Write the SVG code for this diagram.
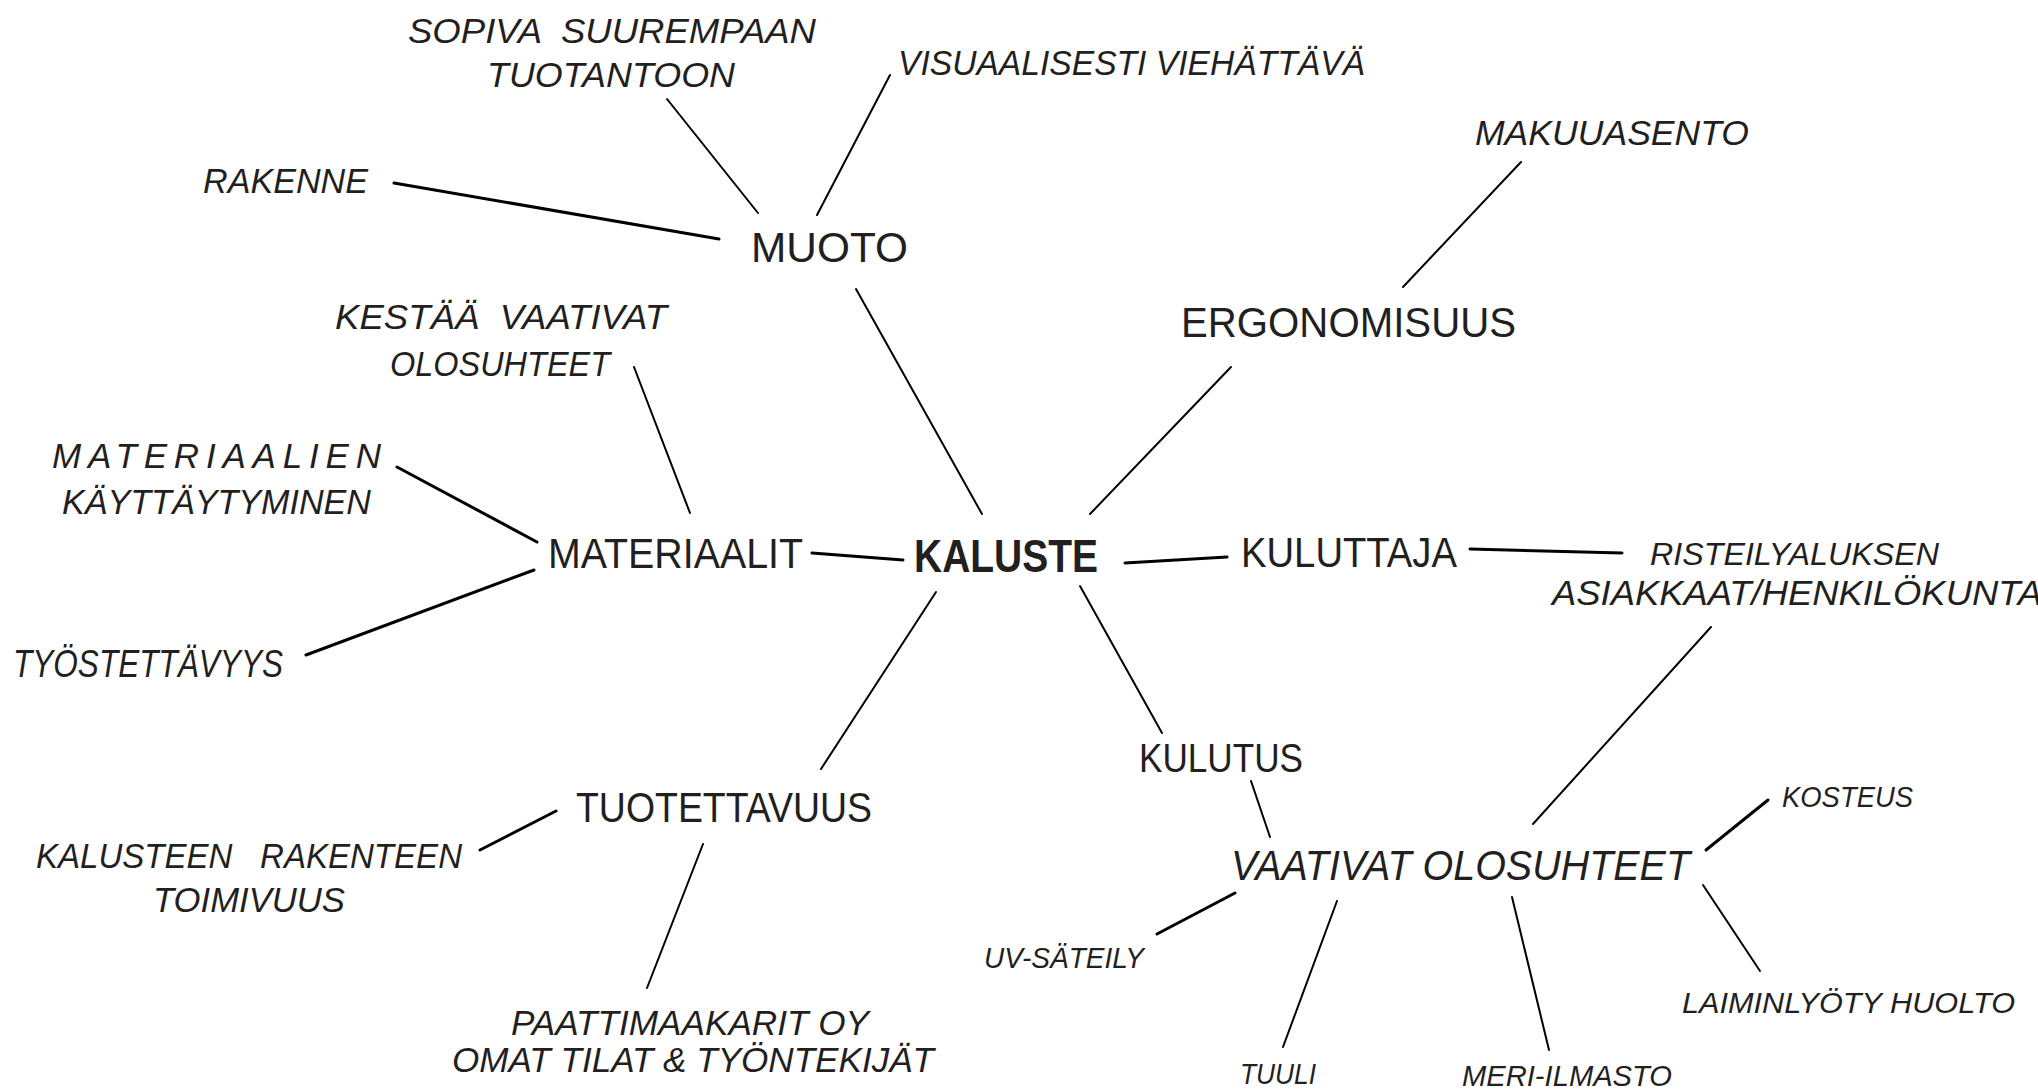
<svg xmlns="http://www.w3.org/2000/svg" width="2038" height="1092" viewBox="0 0 2038 1092">
<style>
text{font-family:"Liberation Sans",Arial,sans-serif;fill:#231f20;white-space:pre}
.m{font-size:42px}
.i{font-size:35px;font-style:italic}
.s{font-size:30px;font-style:italic}
.b{font-size:47px;font-weight:bold}
.c line{stroke:#000;stroke-width:2;stroke-linecap:round}
.c line.t{stroke-width:3}
</style>
<rect width="2038" height="1092" fill="#fff"/>
<g class="c" id="connectors">
<line x1="667" y1="99" x2="758" y2="213"/>
<line x1="890" y1="75" x2="817" y2="215"/>
<line class="t" x1="394" y1="183" x2="719" y2="239"/>
<line x1="856" y1="289" x2="982" y2="514"/>
<line x1="634" y1="367" x2="690" y2="513"/>
<line class="t" x1="397" y1="467" x2="537" y2="542"/>
<line class="t" x1="306" y1="655" x2="534" y2="570"/>
<line class="t" x1="812" y1="553" x2="903" y2="560"/>
<line x1="936" y1="592" x2="821" y2="769"/>
<line class="t" x1="1125" y1="563" x2="1227" y2="557"/>
<line class="t" x1="1470" y1="549" x2="1622" y2="553"/>
<line x1="1231" y1="367" x2="1090" y2="514"/>
<line x1="1521" y1="162" x2="1403" y2="287"/>
<line x1="1080" y1="586" x2="1162" y2="733"/>
<line x1="1711" y1="627" x2="1533" y2="824"/>
<line x1="1251" y1="781" x2="1270" y2="837"/>
<line class="t" x1="1768" y1="800" x2="1706" y2="850"/>
<line x1="1703" y1="885" x2="1760" y2="971"/>
<line x1="1512" y1="897" x2="1549" y2="1050"/>
<line x1="1337" y1="901" x2="1283" y2="1047"/>
<line class="t" x1="1235" y1="893" x2="1157" y2="934"/>
<line class="t" x1="556" y1="811" x2="480" y2="850"/>
<line x1="703" y1="844" x2="647" y2="988"/>
</g>
<g id="kaluste"><text class="b" x="914" y="572" textLength="184" lengthAdjust="spacingAndGlyphs">KALUSTE</text></g>
<g id="muoto"><text class="m" x="751" y="262" textLength="157" lengthAdjust="spacingAndGlyphs">MUOTO</text></g>
<g id="sopiva"><text class="i" x="408" y="43" textLength="408" lengthAdjust="spacingAndGlyphs" xml:space="preserve">SOPIVA  SUUREMPAAN</text><text class="i" x="487" y="87" textLength="248" lengthAdjust="spacingAndGlyphs">TUOTANTOON</text></g>
<g id="visuaalisesti"><text class="i" x="898" y="75" textLength="467" lengthAdjust="spacingAndGlyphs">VISUAALISESTI VIEHÄTTÄVÄ</text></g>
<g id="rakenne"><text class="i" x="203" y="193" textLength="165" lengthAdjust="spacingAndGlyphs">RAKENNE</text></g>
<g id="kestaa"><text class="i" x="335" y="329" textLength="332" lengthAdjust="spacingAndGlyphs" xml:space="preserve">KESTÄÄ  VAATIVAT</text><text class="i" x="390" y="376" textLength="220" lengthAdjust="spacingAndGlyphs">OLOSUHTEET</text></g>
<g id="materiaalien"><text class="i" x="52" y="468" textLength="329" lengthAdjust="spacing">MATERIAALIEN</text><text class="i" x="62" y="514" textLength="309" lengthAdjust="spacingAndGlyphs">KÄYTTÄYTYMINEN</text></g>
<g id="materiaalit"><text class="m" x="548" y="568" textLength="255" lengthAdjust="spacingAndGlyphs">MATERIAALIT</text></g>
<g id="tyostettavyys"><text class="i" x="13" y="677" style="font-size:39px" textLength="270" lengthAdjust="spacingAndGlyphs">TYÖSTETTÄVYYS</text></g>
<g id="kuluttaja"><text class="m" x="1241" y="567" textLength="216" lengthAdjust="spacingAndGlyphs">KULUTTAJA</text></g>
<g id="risteilyaluksen"><text class="i" x="1650" y="565" style="font-size:32px" textLength="289" lengthAdjust="spacingAndGlyphs">RISTEILYALUKSEN</text><text class="i" x="1552" y="605" textLength="490" lengthAdjust="spacingAndGlyphs">ASIAKKAAT/HENKILÖKUNTA</text></g>
<g id="makuuasento"><text class="i" x="1475" y="145" textLength="274" lengthAdjust="spacingAndGlyphs">MAKUUASENTO</text></g>
<g id="ergonomisuus"><text class="m" x="1181" y="337" textLength="335" lengthAdjust="spacingAndGlyphs">ERGONOMISUUS</text></g>
<g id="tuotettavuus"><text class="m" x="576" y="822" textLength="296" lengthAdjust="spacingAndGlyphs">TUOTETTAVUUS</text></g>
<g id="kalusteen-rakenteen"><text class="i" x="36" y="868" textLength="426" lengthAdjust="spacingAndGlyphs" xml:space="preserve">KALUSTEEN   RAKENTEEN</text><text class="i" x="153" y="912" textLength="192" lengthAdjust="spacingAndGlyphs">TOIMIVUUS</text></g>
<g id="paattimaakarit"><text class="i" x="511" y="1035" textLength="358" lengthAdjust="spacingAndGlyphs">PAATTIMAAKARIT OY</text><text class="i" x="452" y="1072" textLength="482" lengthAdjust="spacingAndGlyphs">OMAT TILAT &amp; TYÖNTEKIJÄT</text></g>
<g id="kulutus"><text class="m" x="1139" y="772" style="font-size:41px" textLength="164" lengthAdjust="spacingAndGlyphs">KULUTUS</text></g>
<g id="vaativat-olosuhteet"><text class="m" x="1231" y="880" style="font-style:italic" textLength="459" lengthAdjust="spacingAndGlyphs">VAATIVAT OLOSUHTEET</text></g>
<g id="uv-sateily"><text class="s" x="984" y="968" style="font-size:29px" textLength="160" lengthAdjust="spacingAndGlyphs">UV-SÄTEILY</text></g>
<g id="kosteus"><text class="s" x="1782" y="807" textLength="131" lengthAdjust="spacingAndGlyphs">KOSTEUS</text></g>
<g id="laiminlyoty"><text class="s" x="1682" y="1013" textLength="333" lengthAdjust="spacingAndGlyphs">LAIMINLYÖTY HUOLTO</text></g>
<g id="tuuli"><text class="s" x="1240" y="1084" textLength="76" lengthAdjust="spacingAndGlyphs">TUULI</text></g>
<g id="meri-ilmasto"><text class="s" x="1462" y="1086" textLength="210" lengthAdjust="spacingAndGlyphs">MERI-ILMASTO</text></g>
</svg>
